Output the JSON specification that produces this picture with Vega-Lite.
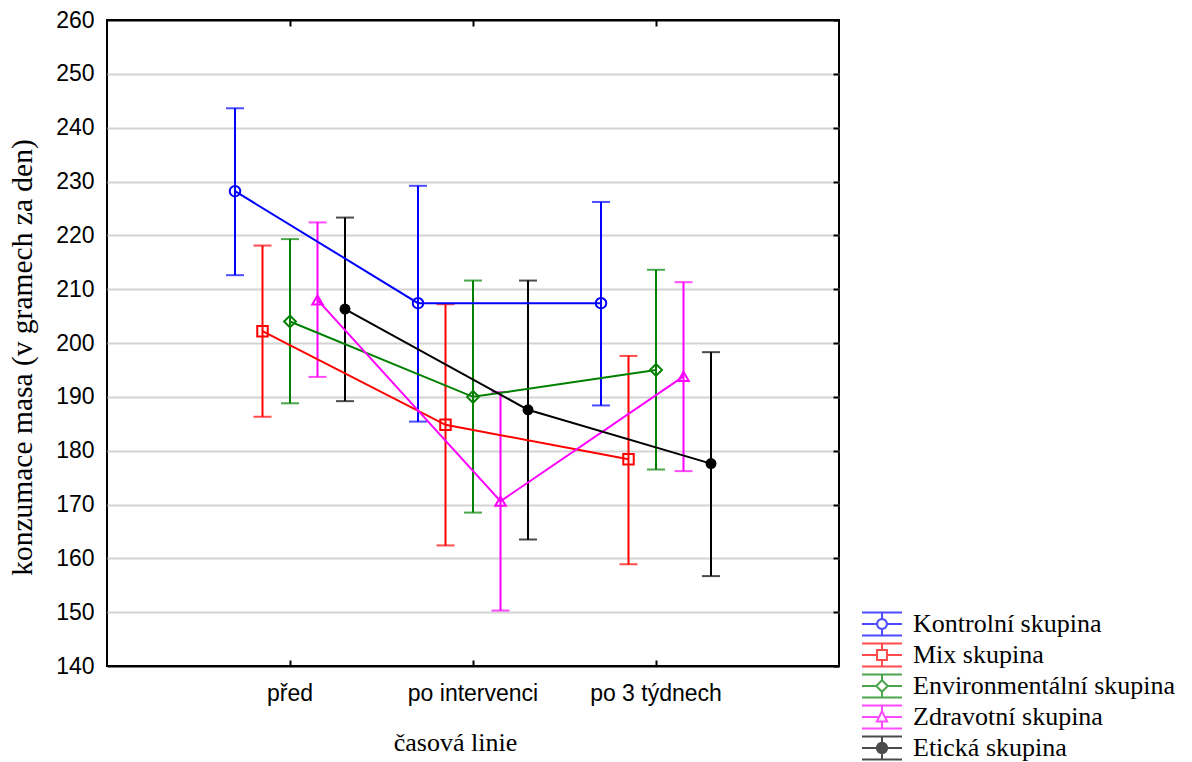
{
  "$schema": "https://vega.github.io/schema/vega-lite/v6.json",
  "autosize": {"type": "none"},
  "padding": {"left": 107, "top": 20, "right": 353, "bottom": 96},
  "width": 732,
  "height": 646,
  "background": "white",
  "config": {
    "view": {"stroke": "black", "strokeWidth": 2},
    "range": {
      "category": ["#0000ff", "#ff0000", "#008000", "#ff00ff", "#000000"],
      "symbol": [
        "M-1.74,-1L1.74,-1M-1.74,0L-0.43,0M0.43,0L1.74,0M-1.74,1L1.74,1M0,-1L0,-0.43M0,0.43L0,1M0.43,0L0.397,0.165L0.304,0.304L0.165,0.397L0,0.43L-0.165,0.397L-0.304,0.304L-0.397,0.165L-0.43,0L-0.397,-0.165L-0.304,-0.304L-0.165,-0.397L0,-0.43L0.165,-0.397L0.304,-0.304L0.397,-0.165Z",
        "M-1.74,-1L1.74,-1M-1.74,0L-0.43,0M0.43,0L1.74,0M-1.74,1L1.74,1M0,-1L0,-0.43M0,0.43L0,1M-0.43,-0.43L0.43,-0.43L0.43,0.43L-0.43,0.43Z",
        "M-1.74,-1L1.74,-1M-1.74,0L-0.5,0M0.5,0L1.74,0M-1.74,1L1.74,1M0,-1L0,-0.5M0,0.5L0,1M0,-0.5L0.5,0L0,0.5L-0.5,0Z",
        "M-1.74,-1L1.74,-1M-1.74,0L-0.3,0M0.3,0L1.74,0M-1.74,1L1.74,1M0,-1L0,-0.5M0,0.4L0,1M0,-0.5L0.45,0.4L-0.45,0.4Z",
        "M-1.74,-1L1.74,-1M-1.74,0L1.74,0M-1.74,1L1.74,1M0,-1L0,1M0.45,0L0.416,0.172L0.318,0.318L0.172,0.416L0,0.45L-0.172,0.416L-0.318,0.318L-0.416,0.172L-0.45,0L-0.416,-0.172L-0.318,-0.318L-0.172,-0.416L0,-0.45L0.172,-0.416L0.318,-0.318L0.416,-0.172ZM0.33,0L0.233,0.233L0,0.33L-0.233,0.233L-0.33,0L-0.233,-0.233L0,-0.33L0.233,-0.233ZM0.21,0L0.148,0.148L0,0.21L-0.148,0.148L-0.21,0L-0.148,-0.148L0,-0.21L0.148,-0.148ZM0.09,0L0.064,0.064L0,0.09L-0.064,0.064L-0.09,0L-0.064,-0.064L0,-0.09L0.064,-0.064Z"
      ]
    },
    "axis": {
      "labelFont": "Liberation Sans",
      "labelFontSize": 23,
      "labelColor": "black",
      "titleFont": "Liberation Serif",
      "titleFontWeight": "normal",
      "titleColor": "black",
      "gridColor": "#d3d3d3",
      "gridWidth": 2,
      "domain": false,
      "tickColor": "black",
      "tickWidth": 2
    }
  },
  "data": {
    "values": [
      {"skupina": "Kontrolní skupina", "cas": "před", "mean": 228.2, "lower": 212.6, "upper": 243.6},
      {"skupina": "Kontrolní skupina", "cas": "po intervenci", "mean": 207.4, "lower": 185.4, "upper": 229.2},
      {"skupina": "Kontrolní skupina", "cas": "po 3 týdnech", "mean": 207.4, "lower": 188.4, "upper": 226.2},
      {"skupina": "Mix skupina", "cas": "před", "mean": 202.2, "lower": 186.3, "upper": 218.1},
      {"skupina": "Mix skupina", "cas": "po intervenci", "mean": 184.8, "lower": 162.4, "upper": 207.2},
      {"skupina": "Mix skupina", "cas": "po 3 týdnech", "mean": 178.4, "lower": 158.9, "upper": 197.6},
      {"skupina": "Environmentální skupina", "cas": "před", "mean": 204.0, "lower": 188.8, "upper": 219.3},
      {"skupina": "Environmentální skupina", "cas": "po intervenci", "mean": 190.0, "lower": 168.5, "upper": 211.6},
      {"skupina": "Environmentální skupina", "cas": "po 3 týdnech", "mean": 195.0, "lower": 176.5, "upper": 213.6},
      {"skupina": "Zdravotní skupina", "cas": "před", "mean": 208.0, "lower": 193.7, "upper": 222.4},
      {"skupina": "Zdravotní skupina", "cas": "po intervenci", "mean": 170.6, "lower": 150.3, "upper": 190.9},
      {"skupina": "Zdravotní skupina", "cas": "po 3 týdnech", "mean": 193.8, "lower": 176.2, "upper": 211.3},
      {"skupina": "Etická skupina", "cas": "před", "mean": 206.3, "lower": 189.2, "upper": 223.3},
      {"skupina": "Etická skupina", "cas": "po intervenci", "mean": 187.6, "lower": 163.5, "upper": 211.6},
      {"skupina": "Etická skupina", "cas": "po 3 týdnech", "mean": 177.6, "lower": 156.7, "upper": 198.3}
    ]
  },
  "layer": [
    {
      "mark": {"type": "rule", "strokeWidth": 2},
      "encoding": {
        "x": {
          "field": "cas", "type": "nominal",
          "sort": ["před", "po intervenci", "po 3 týdnech"],
          "scale": {"paddingInner": 0, "paddingOuter": 0.5},
          "title": "časová linie",
          "axis": {
            "labelAngle": 0, "ticks": true, "tickSize": -6, "labelPadding": 22, "bandPosition": 0.5,
            "titleFontSize": 26, "titleX": 348, "titleY": 76, "titleBaseline": "middle"
          }
        },
        "xOffset": {
          "field": "skupina", "type": "nominal",
          "sort": ["Kontrolní skupina", "Mix skupina", "Environmentální skupina", "Zdravotní skupina", "Etická skupina"],
          "scale": {"paddingInner": 0, "paddingOuter": 0.827}
        },
        "color": {
          "field": "skupina", "type": "nominal",
          "scale": {
            "domain": ["Kontrolní skupina", "Mix skupina", "Environmentální skupina", "Zdravotní skupina", "Etická skupina"],
            "range": ["#0000ff", "#ff0000", "#008000", "#ff00ff", "#000000"]
          },
          "legend": null
        },
        "y": {
          "field": "lower", "type": "quantitative",
          "title": "konzumace masa (v gramech za den)",
          "scale": {"domain": [140, 260], "nice": false, "zero": false},
          "axis": {
            "values": [140, 150, 160, 170, 180, 190, 200, 210, 220, 230, 240, 250, 260],
            "ticks": false, "labelPadding": 13,
            "titleFontSize": 29.5, "titleX": -85, "titleY": 337, "titleBaseline": "middle",
            "gridColor": {"condition": {"test": "datum.value === 140 || datum.value === 260", "value": "black"}, "value": "#d3d3d3"}
          }
        },
        "y2": {"field": "upper"}
      }
    },
    {
      "mark": {"type": "tick", "orient": "horizontal", "size": 18, "thickness": 2},
      "encoding": {
        "x": {"field": "cas", "type": "nominal", "sort": ["před", "po intervenci", "po 3 týdnech"], "axis": null},
        "xOffset": {"field": "skupina", "type": "nominal", "sort": ["Kontrolní skupina", "Mix skupina", "Environmentální skupina", "Zdravotní skupina", "Etická skupina"]},
        "color": {"field": "skupina", "type": "nominal", "legend": null},
        "y": {"field": "upper", "type": "quantitative", "axis": null}
      }
    },
    {
      "mark": {"type": "tick", "orient": "horizontal", "size": 18, "thickness": 2},
      "encoding": {
        "x": {"field": "cas", "type": "nominal", "sort": ["před", "po intervenci", "po 3 týdnech"], "axis": null},
        "xOffset": {"field": "skupina", "type": "nominal", "sort": ["Kontrolní skupina", "Mix skupina", "Environmentální skupina", "Zdravotní skupina", "Etická skupina"]},
        "color": {"field": "skupina", "type": "nominal", "legend": null},
        "y": {"field": "lower", "type": "quantitative", "axis": null}
      }
    },
    {
      "mark": {"type": "line", "strokeWidth": 2},
      "encoding": {
        "x": {"field": "cas", "type": "nominal", "sort": ["před", "po intervenci", "po 3 týdnech"], "axis": null},
        "xOffset": {"field": "skupina", "type": "nominal", "sort": ["Kontrolní skupina", "Mix skupina", "Environmentální skupina", "Zdravotní skupina", "Etická skupina"]},
        "color": {"field": "skupina", "type": "nominal", "legend": null},
        "y": {"field": "mean", "type": "quantitative", "axis": null}
      }
    },
    {
      "transform": [{"filter": "datum.skupina === 'Kontrolní skupina'"}],
      "mark": {"type": "point", "shape": "circle", "size": 110, "strokeWidth": 2, "filled": false, "opacity": 1},
      "encoding": {
        "x": {"field": "cas", "type": "nominal", "sort": ["před", "po intervenci", "po 3 týdnech"], "axis": null},
        "xOffset": {"field": "skupina", "type": "nominal", "sort": ["Kontrolní skupina", "Mix skupina", "Environmentální skupina", "Zdravotní skupina", "Etická skupina"]},
        "color": {"field": "skupina", "type": "nominal", "legend": null},
        "y": {"field": "mean", "type": "quantitative", "axis": null}
      }
    },
    {
      "transform": [{"filter": "datum.skupina === 'Mix skupina'"}],
      "mark": {"type": "point", "shape": "square", "size": 110, "strokeWidth": 2, "filled": false, "opacity": 1},
      "encoding": {
        "x": {"field": "cas", "type": "nominal", "sort": ["před", "po intervenci", "po 3 týdnech"], "axis": null},
        "xOffset": {"field": "skupina", "type": "nominal", "sort": ["Kontrolní skupina", "Mix skupina", "Environmentální skupina", "Zdravotní skupina", "Etická skupina"]},
        "color": {"field": "skupina", "type": "nominal", "legend": null},
        "y": {"field": "mean", "type": "quantitative", "axis": null}
      }
    },
    {
      "transform": [{"filter": "datum.skupina === 'Environmentální skupina'"}],
      "mark": {"type": "point", "shape": "diamond", "size": 140, "strokeWidth": 2, "filled": false, "opacity": 1},
      "encoding": {
        "x": {"field": "cas", "type": "nominal", "sort": ["před", "po intervenci", "po 3 týdnech"], "axis": null},
        "xOffset": {"field": "skupina", "type": "nominal", "sort": ["Kontrolní skupina", "Mix skupina", "Environmentální skupina", "Zdravotní skupina", "Etická skupina"]},
        "color": {"field": "skupina", "type": "nominal", "legend": null},
        "y": {"field": "mean", "type": "quantitative", "axis": null}
      }
    },
    {
      "transform": [{"filter": "datum.skupina === 'Zdravotní skupina'"}],
      "mark": {"type": "point", "shape": "triangle-up", "size": 110, "strokeWidth": 2, "filled": false, "opacity": 1},
      "encoding": {
        "x": {"field": "cas", "type": "nominal", "sort": ["před", "po intervenci", "po 3 týdnech"], "axis": null},
        "xOffset": {"field": "skupina", "type": "nominal", "sort": ["Kontrolní skupina", "Mix skupina", "Environmentální skupina", "Zdravotní skupina", "Etická skupina"]},
        "color": {"field": "skupina", "type": "nominal", "legend": null},
        "y": {"field": "mean", "type": "quantitative", "axis": null}
      }
    },
    {
      "transform": [{"filter": "datum.skupina === 'Etická skupina'"}],
      "mark": {"type": "point", "shape": "circle", "size": 120, "strokeWidth": 1, "filled": true, "opacity": 1},
      "encoding": {
        "x": {"field": "cas", "type": "nominal", "sort": ["před", "po intervenci", "po 3 týdnech"], "axis": null},
        "xOffset": {"field": "skupina", "type": "nominal", "sort": ["Kontrolní skupina", "Mix skupina", "Environmentální skupina", "Zdravotní skupina", "Etická skupina"]},
        "color": {"field": "skupina", "type": "nominal", "legend": null},
        "y": {"field": "mean", "type": "quantitative", "axis": null}
      }
    },
    {
      "mark": {"type": "point", "filled": false, "size": 0},
      "encoding": {
        "x": {
          "field": "cas", "type": "nominal",
          "sort": ["před", "po intervenci", "po 3 týdnech"],
          "axis": {"orient": "top", "labels": false, "grid": false, "domain": false, "ticks": true, "tickSize": -6, "title": null}
        },
        "y": {
          "field": "mean", "type": "quantitative",
          "axis": {"orient": "right", "labels": false, "grid": false, "domain": false, "ticks": true, "tickSize": -6, "tickCount": 12, "title": null}
        },
        "stroke": {
          "field": "skupina", "type": "nominal",
          "sort": null,
          "legend": {
            "orient": "none", "legendX": 762, "legendY": 591, "title": null, "padding": 0,
            "symbolSize": 529, "symbolStrokeWidth": 2,
            "labelFont": "Liberation Serif", "labelFontSize": 26, "labelColor": "black", "labelOffset": 18,
            "rowPadding": -1, "labelLimit": 400
          }
        },
        "shape": {
          "field": "skupina", "type": "nominal",
          "sort": null,
          "legend": {
            "orient": "none", "legendX": 762, "legendY": 591, "title": null, "padding": 0,
            "symbolSize": 529, "symbolStrokeWidth": 2,
            "labelFont": "Liberation Serif", "labelFontSize": 26, "labelColor": "black", "labelOffset": 18,
            "rowPadding": -1, "labelLimit": 400
          }
        }
      }
    }
  ],
  "resolve": {"axis": {"x": "independent", "y": "independent"}}
}
